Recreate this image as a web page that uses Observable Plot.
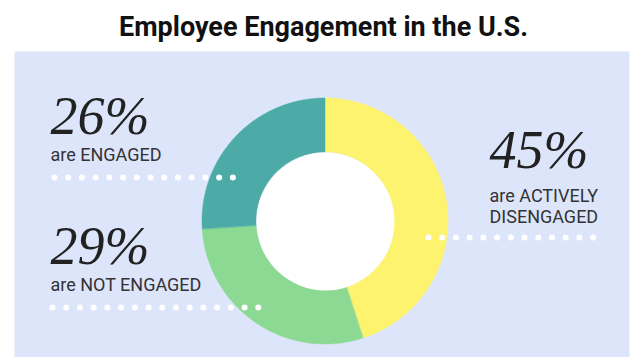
<!DOCTYPE html>
<html>
<head>
<meta charset="utf-8">
<script src="https://cdn.jsdelivr.net/npm/d3@7"></script>
<script src="https://cdn.jsdelivr.net/npm/@observablehq/plot@0.6"></script>
<style>
  html, body { margin: 0; padding: 0; background: #ffffff; width: 644px; height: 357px; overflow: hidden; }
  #title { height: 51px; width: 644px; box-sizing: border-box; padding-top: 11px; text-align: center;
    font-family: Roboto, "Noto Sans", sans-serif; font-weight: 700; font-size: 27px; color: #111; line-height: 32px; padding-left: 3px; }
  #chart svg { display: block; }
</style>
</head>
<body>
<div id="title">Employee Engagement in the U.S.</div>
<div id="chart"></div>
<script>
// ---- data ----
const categories = ["Actively disengaged", "Not engaged", "Engaged"];
const shares = [45, 29, 26];
const percentLabels = ["45%", "29%", "26%"];
const descriptions = ["are ACTIVELY\nDISENGAGED", "are NOT ENGAGED", "are ENGAGED"];
const sliceColors = ["#fdf36f", "#8bd993", "#4caba6"];

// ---- layout (pixels within the svg) ----
const W = 644, H = 306;
const cx = 325, cy = 170, R = 123, r = 69;
const labelPos = {
  "Engaged":             {x: 50,  yPct: 82,  yDesc: 109, dotY: 126, dotX0: 54,  dots: 14},
  "Not engaged":         {x: 50,  yPct: 212, yDesc: 239, dotY: 256, dotX0: 52,  dots: 16},
  "Actively disengaged": {x: 489, yPct: 116, yDesc: 171, dotY: 186, dotX0: 428, dots: 13}
};
const dotStep = 13.72;

// build ring-slice outlines from the shares
const total = d3.sum(shares);
let acc = 0;
const ring = [];
categories.forEach((c, i) => {
  const a0 = acc / total * 2 * Math.PI;
  acc += shares[i];
  const a1 = acc / total * 2 * Math.PI;
  const n = 80;
  for (let k = 0; k <= n; k++) {
    const t = a0 + (a1 - a0) * k / n;
    ring.push({category: c, x1: cx + R * Math.sin(t), y1: cy - R * Math.cos(t),
               x2: cx + r * Math.sin(t), y2: cy - r * Math.cos(t)});
  }
});

const labels = categories.map((c, i) => ({category: c, pct: percentLabels[i], desc: descriptions[i], ...labelPos[c]}));
const leaderDots = labels.flatMap(l => d3.range(l.dots).map(k => ({category: l.category, x: l.dotX0 + k * dotStep, y: l.dotY})));

const plot = Plot.plot({
  width: W, height: H,
  marginLeft: 14, marginRight: 15, marginTop: 0, marginBottom: 0,
  x: {domain: [14, W - 15], range: [14, W - 15], axis: null},
  y: {domain: [0, H], range: [0, H], axis: null},
  color: {domain: categories, range: sliceColors},
  style: {background: "transparent"},
  marks: [
    Plot.frame({fill: "#dde5fb", stroke: null}),
    Plot.area(ring, {x1: "x1", y1: "y1", x2: "x2", y2: "y2", fill: "category", z: "category", stroke: "category", strokeWidth: 0.5}),
    Plot.dot([0], {x: () => cx, y: () => cy, r: r, fill: "#ffffff", stroke: null}),
    Plot.dot(leaderDots, {x: "x", y: "y", r: 3, fill: "#ffffff", stroke: null}),
    Plot.text(labels, {x: "x", y: "yPct", text: "pct", textAnchor: "start", lineAnchor: "bottom",
      fontFamily: "Liberation Serif", fontStyle: "italic", fontSize: 54, fill: "#222"}),
    Plot.text(labels, {x: "x", y: "yDesc", text: "desc", textAnchor: "start", lineAnchor: "bottom",
      fontFamily: "Roboto", fontSize: 18, lineHeight: 1.12, fill: "#333"})
  ]
});
document.getElementById("chart").appendChild(plot);
</script>
</body>
</html>
